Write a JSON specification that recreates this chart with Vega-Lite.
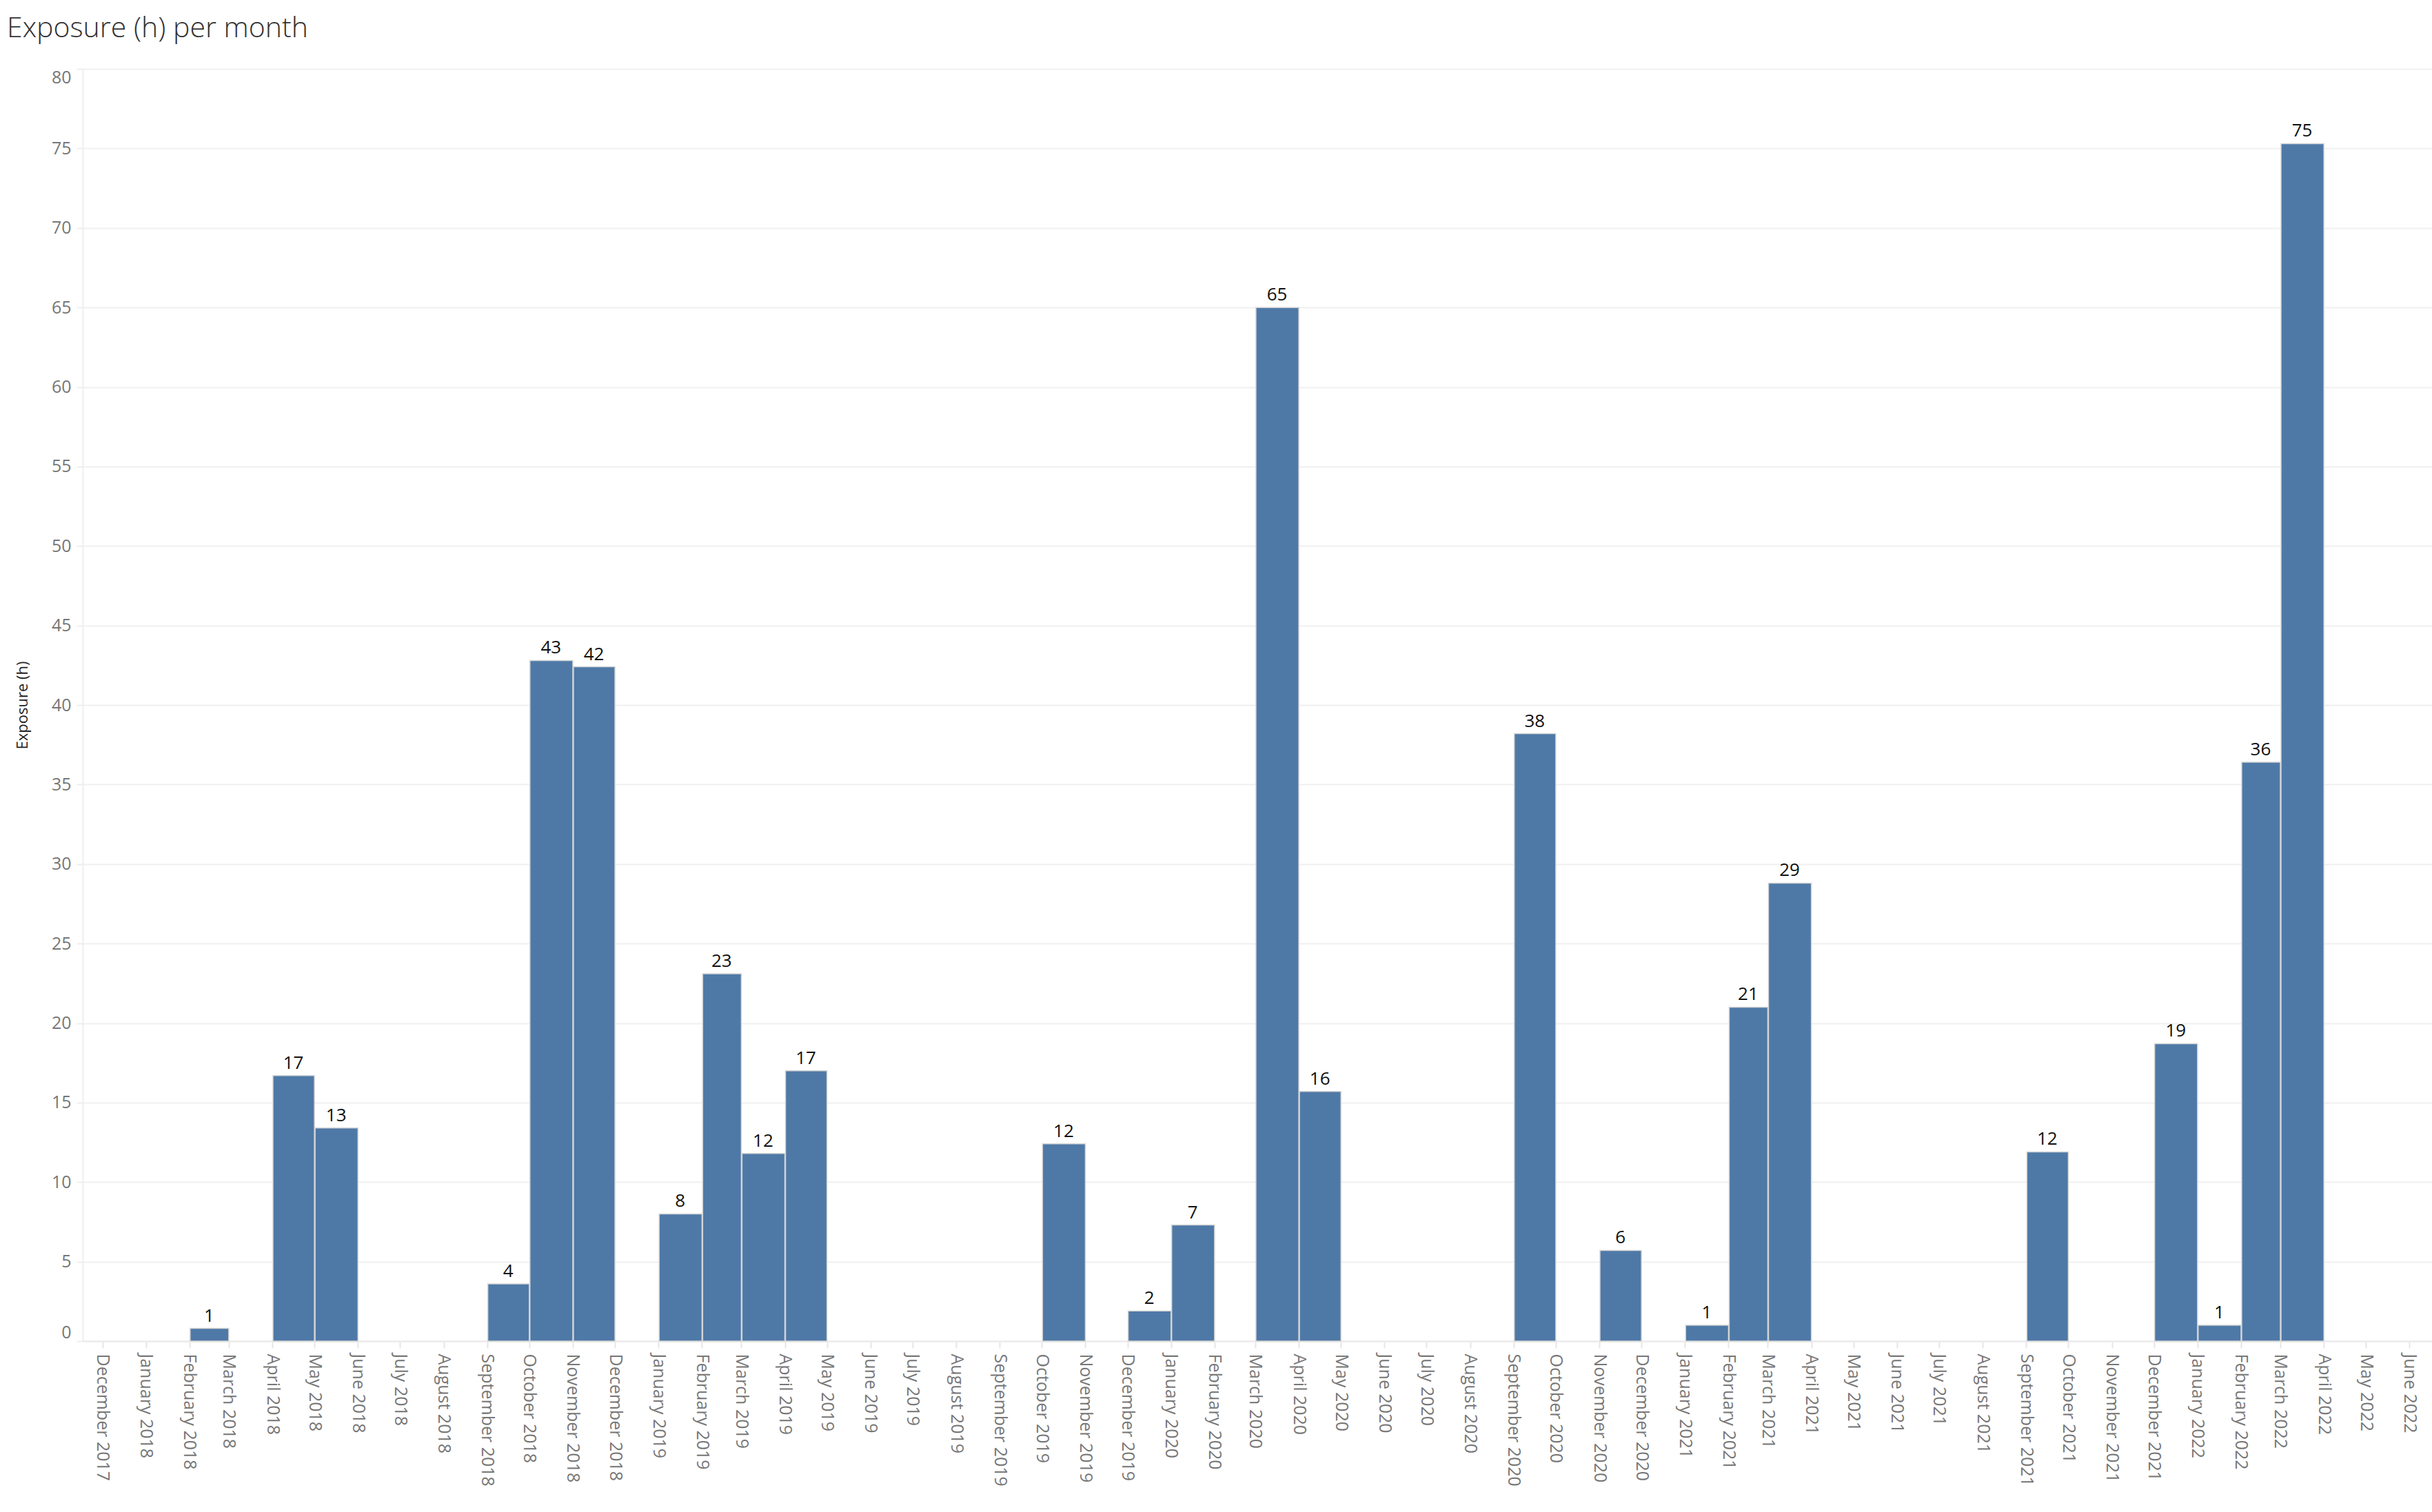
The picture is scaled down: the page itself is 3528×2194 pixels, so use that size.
{
  "$schema": "https://vega.github.io/schema/vega-lite/v6.json",
  "autosize": {"type": "none"},
  "padding": {"left": 120, "top": 100, "right": 0, "bottom": 248},
  "width": 3408,
  "height": 1846,
  "background": "white",
  "title": {
    "text": "Exposure (h) per month",
    "anchor": "start",
    "frame": "group",
    "dx": -110,
    "offset": 4,
    "baseline": "alphabetic",
    "font": "Open Sans",
    "fontSize": 41,
    "fontWeight": 300,
    "color": "#333333"
  },
  "config": {
    "view": {"stroke": null},
    "font": "Open Sans"
  },
  "data": {
    "values": [
      {"month": "2018-02-01", "hours": 0.8},
      {"month": "2018-04-01", "hours": 16.7},
      {"month": "2018-05-01", "hours": 13.4},
      {"month": "2018-09-01", "hours": 3.6},
      {"month": "2018-10-01", "hours": 42.8},
      {"month": "2018-11-01", "hours": 42.4},
      {"month": "2019-01-01", "hours": 8.0},
      {"month": "2019-02-01", "hours": 23.1},
      {"month": "2019-03-01", "hours": 11.8},
      {"month": "2019-04-01", "hours": 17.0},
      {"month": "2019-10-01", "hours": 12.4},
      {"month": "2019-12-01", "hours": 1.9},
      {"month": "2020-01-01", "hours": 7.3},
      {"month": "2020-03-01", "hours": 65.0},
      {"month": "2020-04-01", "hours": 15.7},
      {"month": "2020-09-01", "hours": 38.2},
      {"month": "2020-11-01", "hours": 5.7},
      {"month": "2021-01-01", "hours": 1.0},
      {"month": "2021-02-01", "hours": 21.0},
      {"month": "2021-03-01", "hours": 28.8},
      {"month": "2021-09-01", "hours": 11.9},
      {"month": "2021-12-01", "hours": 18.7},
      {"month": "2022-01-01", "hours": 1.0},
      {"month": "2022-02-01", "hours": 36.4},
      {"month": "2022-03-01", "hours": 75.3}
    ]
  },
  "layer": [
    {
      "mark": {"type": "bar", "color": "#4e79a7", "stroke": "#d4d4d4", "strokeWidth": 1.5},
      "encoding": {
        "x": {
          "field": "month",
          "timeUnit": "utcyearmonth",
          "type": "temporal",
          "scale": {
            "type": "utc",
            "domain": [
              {"year": 2017, "month": 11, "date": 17, "utc": true},
              {"year": 2022, "month": 6, "date": 17, "utc": true}
            ]
          },
          "axis": {
            "title": null,
            "tickCount": {"interval": "month", "step": 1},
            "format": "%B %Y",
            "labelAngle": 90,
            "labelAlign": "left",
            "labelBaseline": "middle",
            "labelFontSize": 25,
            "labelColor": "#777777",
            "labelPadding": 8,
            "labelLimit": 0,
            "labelOverlap": false,
            "labelBound": false,
            "labelFlush": false,
            "tickSize": 10,
            "tickColor": "#e6e6e6",
            "tickWidth": 2,
            "domainColor": "#eeeeee",
            "domainWidth": 3,
            "grid": false
          }
        },
        "y": {
          "field": "hours",
          "type": "quantitative",
          "scale": {"domain": [0, 80], "nice": false},
          "axis": {
            "title": "Exposure (h)",
            "titleFontSize": 22,
            "titleFontWeight": 500,
            "titleColor": "#222222",
            "titleX": -88,
            "titleY": 923,
            "titleAngle": -90,
            "titleAlign": "center",
            "titleBaseline": "middle",
            "values": [0, 5, 10, 15, 20, 25, 30, 35, 40, 45, 50, 55, 60, 65, 70, 75, 80],
            "labelFontSize": 25,
            "labelColor": "#777777",
            "labelPadding": 8,
            "labelFlush": true,
            "tickSize": 9,
            "tickColor": "#eeeeee",
            "tickWidth": 2,
            "domainColor": "#eeeeee",
            "domainWidth": 2,
            "grid": true,
            "gridColor": "#f0f0f0",
            "gridWidth": 2
          }
        }
      }
    },
    {
      "mark": {"type": "text", "baseline": "alphabetic", "dy": -10, "fontSize": 26, "color": "#111111"},
      "encoding": {
        "x": {"field": "month", "timeUnit": "utcyearmonth", "type": "temporal", "bandPosition": 0.5},
        "y": {"field": "hours", "type": "quantitative"},
        "text": {"field": "hours", "type": "quantitative", "format": ".0f"}
      }
    }
  ]
}
